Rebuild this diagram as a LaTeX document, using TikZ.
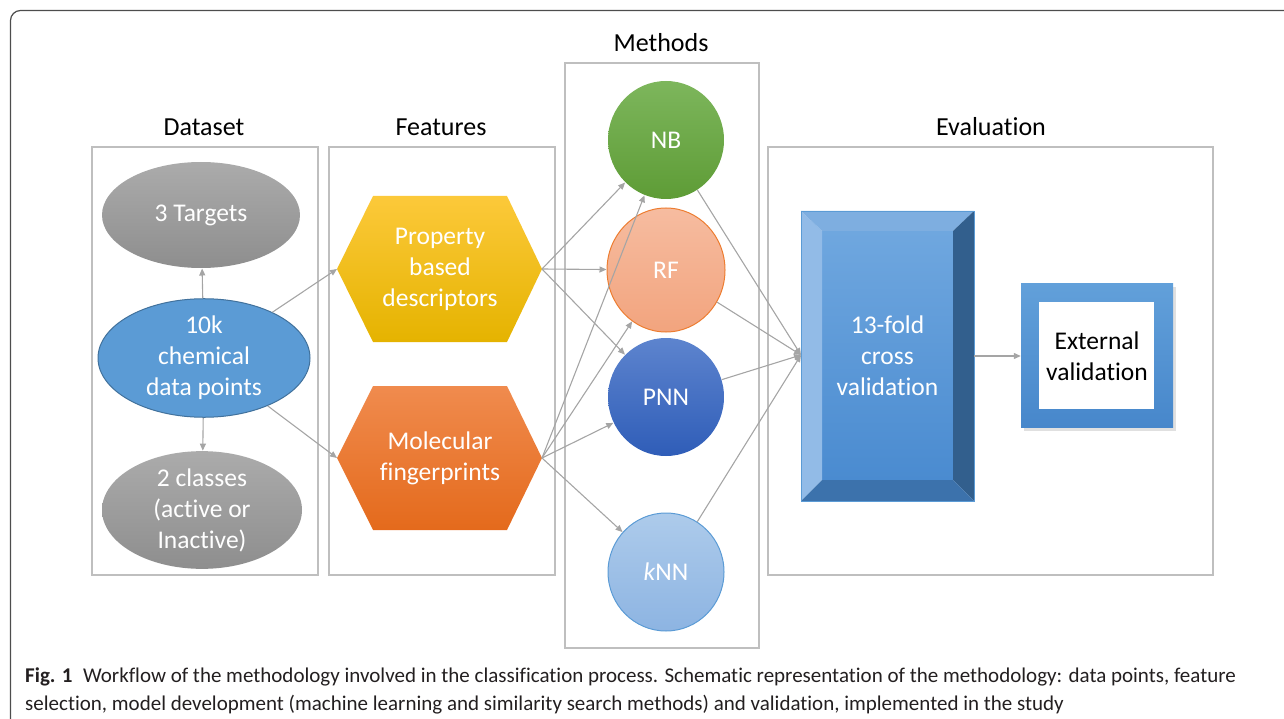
\documentclass[tikz,border=0pt]{standalone}
\usepackage{fontspec}
\setmainfont{Carlito}[Ligatures=NoCommon]
\usetikzlibrary{arrows.meta,shapes.geometric,calc}
\definecolor{frameC}{HTML}{4D4D4D}
\definecolor{grpC}{HTML}{BFBFBF}
\definecolor{lineC}{HTML}{A5A5A5}
\definecolor{grayTop}{HTML}{ABABAB}
\definecolor{grayBot}{HTML}{8E8E8E}
\definecolor{tenkFill}{HTML}{5B9BD5}
\definecolor{tenkDraw}{HTML}{41719C}
\definecolor{propTop}{HTML}{FCC93A}
\definecolor{propBot}{HTML}{E5B300}
\definecolor{molTop}{HTML}{F08B4E}
\definecolor{molBot}{HTML}{E46A1C}
\definecolor{nbTop}{HTML}{7DB65C}
\definecolor{nbBot}{HTML}{5E9C36}
\definecolor{rfTop}{HTML}{F6BCA0}
\definecolor{rfBot}{HTML}{F2A47E}
\definecolor{rfDraw}{HTML}{ED7D31}
\definecolor{pnnTop}{HTML}{5D84CE}
\definecolor{pnnBot}{HTML}{2F5DB8}
\definecolor{knnTop}{HTML}{ADCBEB}
\definecolor{knnBot}{HTML}{8DB4E2}
\definecolor{knnDraw}{HTML}{5B9BD5}
\definecolor{cvTop}{HTML}{6FA7DF}
\definecolor{cvBot}{HTML}{4A8BD0}
\definecolor{cvLeft}{HTML}{92BBE7}
\definecolor{cvTopB}{HTML}{7EAEE0}
\definecolor{cvRight}{HTML}{325F8D}
\definecolor{cvBottom}{HTML}{3C72AC}
\definecolor{extTop}{HTML}{62A0DA}
\definecolor{extBot}{HTML}{4787CB}
\definecolor{capC}{HTML}{231F20}
\tikzset{
  grp/.style={draw=grpC, line width=1.4pt},
  ttl/.style={font=\fontsize{26}{30}\selectfont, text=black, inner sep=0pt},
  lbl/.style={font=\fontsize{25.5}{31}\selectfont, text=white, align=center, inner sep=0pt},
  ell/.style={ellipse, inner sep=0pt, line width=1pt, font=\fontsize{25.5}{31}\selectfont, text=white, align=center},
  grayell/.style={ell, top color=grayTop, bottom color=grayBot, draw=none},
  meth/.style={ell, minimum width=116pt, minimum height=118pt},
  conn/.style={draw=lineC, line width=1.1pt, -{Triangle[length=7pt,width=6pt]}},
  captxt/.style={font=\fontsize{21}{28}\selectfont, text=capC, inner sep=0pt, anchor=base west}
}
\begin{document}
\begin{tikzpicture}[x=1pt,y=-1pt]
\useasboundingbox (0,0) rectangle (1284,719);
\begin{scope}
\clip (0,0) rectangle (1284,719);
\draw[draw=frameC, line width=1.2pt, rounded corners=10pt] (10.5,10.5) rectangle (1330,760);
\end{scope}

% group boxes
\draw[grp] (92,147) rectangle (318,575);
\draw[grp] (329,147) rectangle (555,575);
\draw[grp] (565,63) rectangle (759,648);
\draw[grp] (768,147) rectangle (1213,575);

% titles
\node[ttl] (tData) at (204,127) {Dataset};
\node[ttl] (tFeat) at (441,127) {Features};
\node[ttl] (tMeth) at (661,43) {Methods};
\node[ttl] (tEval) at (991,127) {Evaluation};

% dataset
\node[grayell, minimum width=198pt, minimum height=106pt] (targets) at (201,215) {3 Targets};
\node[ell, fill=tenkFill, draw=tenkDraw, minimum width=212pt, minimum height=102pt] (tenk) at (204,358) {10k\\chemical\\data points};
\node[grayell, minimum width=200pt, minimum height=110pt] (classes) at (202,510) {2 classes\\(active or\\Inactive)};

% features (hexagons)
\shade[top color=propTop, bottom color=propBot] (337,269) -- (373,196) -- (507,196) -- (542,269) -- (507,342) -- (373,342) -- cycle;
\coordinate (propL) at (337,269);
\coordinate (propR) at (542,269);
\node[lbl] (prop) at (440,269) {Property\\based\\descriptors};
\shade[top color=molTop, bottom color=molBot] (337,458) -- (373,386) -- (507,386) -- (542,458) -- (507,530) -- (373,530) -- cycle;
\coordinate (molL) at (337,458);
\coordinate (molR) at (542,458);
\node[lbl] (mol) at (440,458) {Molecular\\fingerprints};

% methods
\node[meth, top color=nbTop, bottom color=nbBot, draw=none] (nb) at (666,140) {NB};
\node[meth, top color=rfTop, bottom color=rfBot, draw=rfDraw, minimum width=118pt, minimum height=124pt] (rf) at (666,270) {RF};
\node[meth, top color=pnnTop, bottom color=pnnBot, draw=none] (pnn) at (666,397) {PNN};
\node[meth, top color=knnTop, bottom color=knnBot, draw=knnDraw] (knn) at (666,572) {\textit{k}NN};

% evaluation: bevelled box
\shade[top color=cvTop, bottom color=cvBot] (822,231) rectangle (953,480);
\fill[cvLeft] (801,211) -- (822,231) -- (822,480) -- (801,501) -- cycle;
\fill[cvTopB] (801,211) -- (974,211) -- (953,231) -- (822,231) -- cycle;
\fill[cvRight] (974,211) -- (974,501) -- (953,480) -- (953,231) -- cycle;
\fill[cvBottom] (801,501) -- (974,501) -- (953,480) -- (822,480) -- cycle;
\draw[draw=tenkFill, line width=0.8pt] (801,211) rectangle (974,501);
\node[lbl, minimum width=173pt, minimum height=290pt] (cv) at (887.5,356) {13-fold\\cross\\validation};
\coordinate (cvin) at (801,355);

% external validation
\fill[black, opacity=0.12] (1024,287) rectangle (1176,431);
\shade[top color=extTop, bottom color=extBot] (1021,283) rectangle (1173,427);
\fill[white] (1039,302) rectangle (1154,409);
\node[lbl, text=black, minimum width=152pt, minimum height=144pt] (ext) at (1097,356) {External\\validation};

% connectors
\draw[conn] (tenk) -- (targets);
\draw[conn] (tenk) -- (classes);
\draw[conn] (tenk) -- (propL);
\draw[conn] (tenk) -- (molL);
\draw[conn] (propR) -- (nb);
\draw[conn] (propR) -- (rf);
\draw[conn] (propR) -- (pnn);
\draw[conn] (molR) -- (nb);
\draw[conn] (molR) -- (rf);
\draw[conn] (molR) -- (pnn);
\draw[conn] (molR) -- (knn);
\draw[conn] (nb) -- (cvin);
\draw[conn] (rf) -- (cvin);
\draw[conn] (pnn) -- (cvin);
\draw[conn] (knn) -- (cvin);
\draw[conn] (cv.east) -- (ext.west);

% caption
\node[captxt] (cap1) at (25,682) {\textbf{Fig. 1}\enspace Workflow of the methodology involved in the classification process. Schematic representation of the methodology: data points, feature};
\node[captxt] (cap2) at (25,710) {selection, model development (machine learning and similarity search methods) and validation, implemented in the study};
\end{tikzpicture}
\end{document}
